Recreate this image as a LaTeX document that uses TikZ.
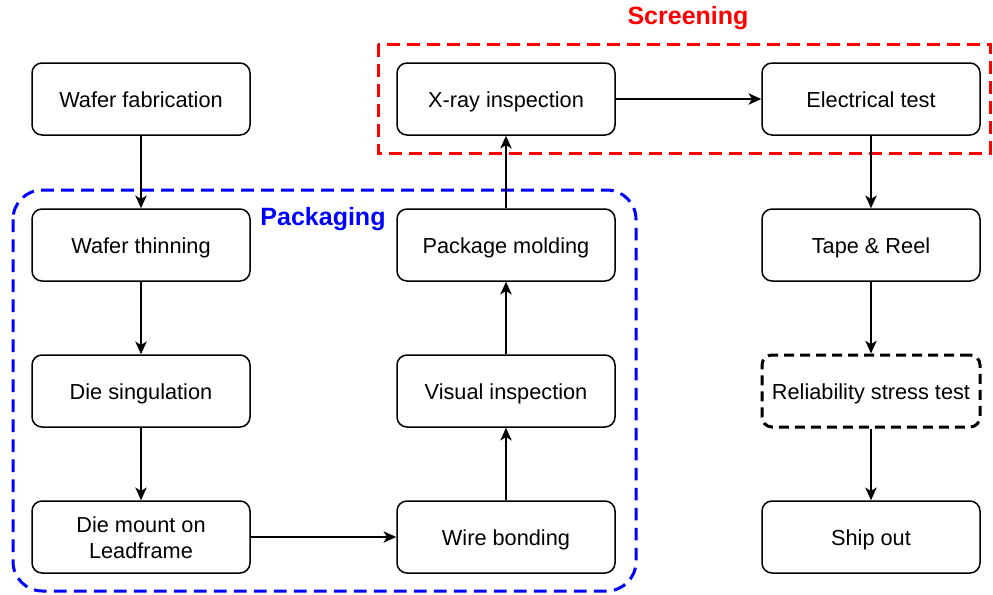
\documentclass[tikz,border=0pt]{standalone}
\usepackage{fontspec}
\setmainfont{Liberation Sans}
\usetikzlibrary{arrows.meta}
\begin{document}
\begin{tikzpicture}[x=0.75pt,y=-0.75pt,
  stepbox/.style={draw=black, line width=1.5pt*0.75, rounded corners=7.5pt,
    minimum width=218*0.75pt, minimum height=72*0.75pt, align=center,
    font=\fontsize{16.3pt}{19.5pt}\selectfont, inner sep=0pt, fill=white,
    text height=13.4pt, text depth=0pt},
  twoline/.style={text height=26.6pt, text depth=12.4pt},
  dashbox/.style={stepbox, line width=2.25pt, dash pattern=on 7.5pt off 4.5pt},
  flow/.style={draw=black, line width=1.5pt*0.75, -{Stealth[length=9.5pt,width=8.5pt,inset=2.5pt]}},
  grouplabel/.style={font=\fontsize{18.75pt}{22pt}\selectfont\bfseries}
]
\useasboundingbox (0,0) rectangle (993,594);

% group frames
\draw[blue, line width=2.25pt, dash pattern=on 9.5pt off 5.5pt, rounded corners=22pt]
  (13,190) rectangle (636,591);
\draw[red, line width=2.25pt, dash pattern=on 9.5pt off 5.5pt]
  (378,44) rectangle (990,153);
\node[grouplabel, text=blue] (pkglabel) at (323,219) {Packaging};
\node[grouplabel, text=red] (scrlabel) at (688,18) {Screening};

% process steps
\node[stepbox] (fab)  at (141,99)  {Wafer fabrication};
\node[stepbox] (thin) at (141,245) {Wafer thinning};
\node[stepbox] (sing) at (141,391) {Die singulation};
\node[stepbox, twoline] (mount) at (141,537) {\begin{tabular}{@{}c@{}}Die mount on\\Leadframe\end{tabular}};
\node[stepbox] (wire) at (506,537) {Wire bonding};
\node[stepbox] (vis)  at (506,391) {Visual inspection};
\node[stepbox] (mold) at (506,245) {Package molding};
\node[stepbox] (xray) at (506,99)  {X-ray inspection};
\node[stepbox] (elec) at (871,99)  {Electrical test};
\node[stepbox] (tape) at (871,245) {Tape \& Reel};
\node[dashbox] (rel)  at (871,391) {Reliability stress test};
\node[stepbox] (ship) at (871,537) {Ship out};

% flow
\draw[flow] (fab) -- (thin);
\draw[flow] (thin) -- (sing);
\draw[flow] (sing) -- (mount);
\draw[flow] (mount) -- (wire);
\draw[flow] (wire) -- (vis);
\draw[flow] (vis) -- (mold);
\draw[flow] (mold) -- (xray);
\draw[flow] (xray) -- (elec);
\draw[flow] (elec) -- (tape);
\draw[flow] (tape) -- (rel);
\draw[flow] (rel) -- (ship);
\end{tikzpicture}
\end{document}
